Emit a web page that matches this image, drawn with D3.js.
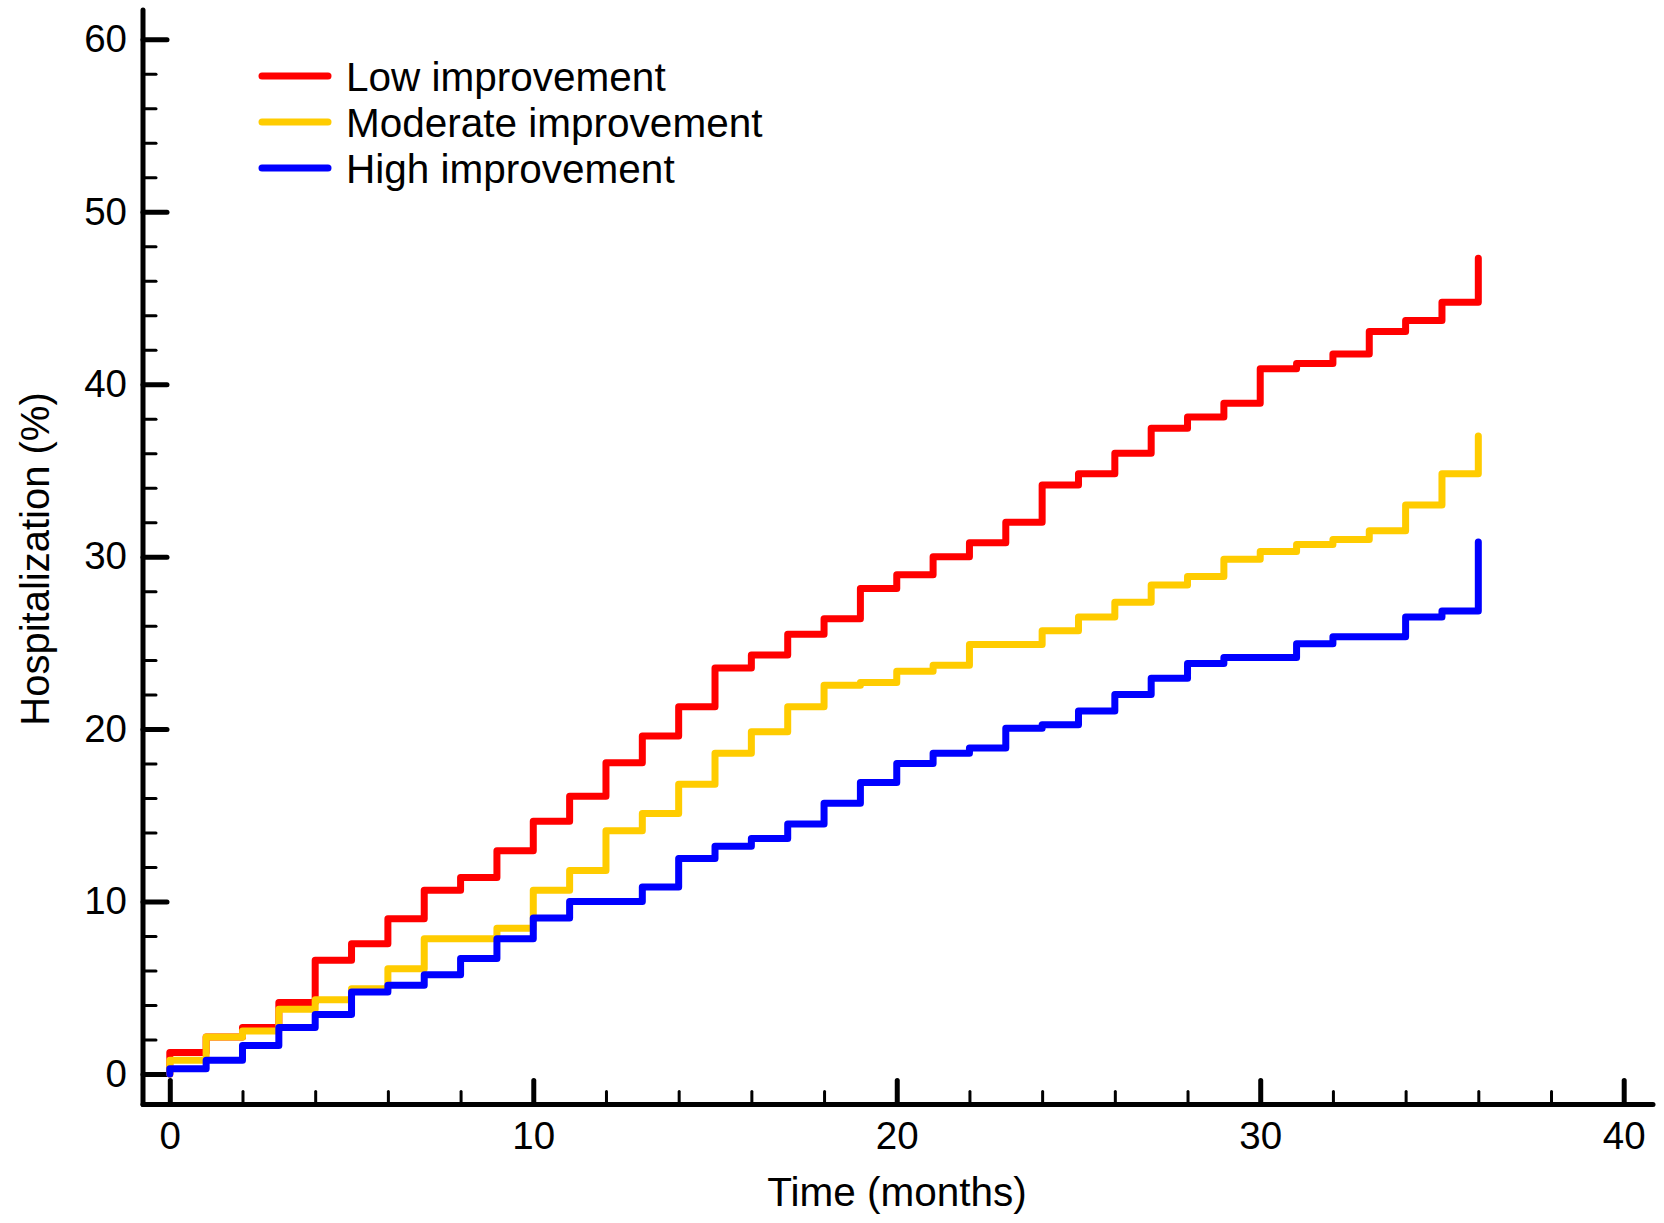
<!DOCTYPE html>
<html>
<head>
<meta charset="utf-8">
<script src="https://cdn.jsdelivr.net/npm/d3@7"></script>
<style>
  body { margin: 0; background: #fff; }
  svg { display: block; font-family: "Liberation Sans", Arial, sans-serif; }
</style>
</head>
<body>
<svg id="chart" width="1664" height="1223"></svg>
<script>
// step times (months)
const months = [0, 1, 2, 3, 4, 5, 6, 7, 8, 9, 10, 11, 12, 13, 14, 15, 16, 17, 18,
    19, 20, 21, 22, 23, 24, 25, 26, 27, 28, 29, 30, 31, 32, 33, 34, 35, 36];

// cumulative hospitalization (%) from each month on; last value is the jump at 36
const lowImprovement = [1.25, 2.15, 2.7, 4.15, 6.6, 7.55, 9.0, 10.65, 11.4, 12.95,
    14.65, 16.1, 18.05, 19.6, 21.3, 23.55, 24.3, 25.5, 26.4, 28.15, 28.95, 30.0,
    30.8, 32.0, 34.15, 34.8, 36.0, 37.45, 38.1, 38.9, 40.9, 41.2, 41.75, 43.05,
    43.7, 44.75, 47.3];
const moderateImprovement = [0.8, 2.15, 2.5, 3.75, 4.3, 4.95, 6.1, 7.85, 7.85, 8.45,
    10.65, 11.8, 14.1, 15.1, 16.8, 18.6, 19.85, 21.3, 22.55, 22.7, 23.35, 23.7,
    24.9, 24.9, 25.7, 26.5, 27.35, 28.35, 28.85, 29.85, 30.3, 30.7, 31.0, 31.5,
    33.0, 34.8, 37.0];
const highImprovement = [0.3, 0.8, 1.65, 2.7, 3.45, 4.75, 5.15, 5.75, 6.7, 7.85,
    9.05, 10.0, 10.0, 10.85, 12.5, 13.2, 13.65, 14.5, 15.7, 16.9, 18.0, 18.6,
    18.9, 20.05, 20.25, 21.05, 22.0, 22.95, 23.8, 24.15, 24.15, 24.95, 25.35,
    25.35, 26.5, 26.85, 30.85];

const seriesNames = ["Low improvement", "Moderate improvement", "High improvement"];
const seriesColors = ["#ff0000", "#ffcc00", "#0000ff"];

const xMajor = [0, 10, 20, 30, 40];
const xMinor = [2, 4, 6, 8, 12, 14, 16, 18, 22, 24, 26, 28, 32, 34, 36, 38];
const yMajor = [0, 10, 20, 30, 40, 50, 60];
const yMinor = [2, 4, 6, 8, 12, 14, 16, 18, 22, 24, 26, 28, 32, 34, 36, 38,
    42, 44, 46, 48, 52, 54, 56, 58];

const svg = d3.select("#chart");

const axisX = 143, axisY = 1104.5;

const x = d3.scaleLinear().domain([0, 40]).range([169.8, 1623.7]);
const y = d3.scaleLinear().domain([0, 60]).range([1074, 39.3]);

// axis lines (drawn past the data range, like the original)
svg.append("line")
    .attr("x1", axisX).attr("x2", axisX)
    .attr("y1", 10).attr("y2", axisY)
    .attr("stroke", "#000").attr("stroke-width", 5).attr("stroke-linecap", "round");
svg.append("line")
    .attr("x1", axisX).attr("x2", 1653)
    .attr("y1", axisY).attr("y2", axisY)
    .attr("stroke", "#000").attr("stroke-width", 5).attr("stroke-linecap", "round");

// y axis: ticks point inward
const yAxisG = svg.append("g")
    .attr("transform", `translate(${axisX},0)`)
    .call(d3.axisLeft(y).tickValues(yMajor).tickSize(-24).tickPadding(16));
svg.append("g")
    .attr("transform", `translate(${axisX},0)`)
    .call(d3.axisLeft(y).tickValues(yMinor).tickSize(-13).tickFormat(""));

// x axis
const xAxisG = svg.append("g")
    .attr("transform", `translate(0,${axisY})`)
    .call(d3.axisBottom(x).tickValues(xMajor).tickSize(-24).tickPadding(17));
svg.append("g")
    .attr("transform", `translate(0,${axisY})`)
    .call(d3.axisBottom(x).tickValues(xMinor).tickSize(-13).tickFormat(""));

svg.selectAll(".domain").remove();
svg.selectAll(".tick line")
    .attr("stroke", "#000")
    .attr("stroke-width", 3)
    .attr("stroke-linecap", "round");
yAxisG.selectAll(".tick line").attr("stroke-width", 5);
xAxisG.selectAll(".tick line").attr("stroke-width", 5);
svg.selectAll(".tick text")
    .attr("font-size", 38.5)
    .attr("font-family", "Liberation Sans, Arial, sans-serif")
    .attr("fill", "#000");

// step curves
const line = d3.line()
    .x(d => x(d[0]))
    .y(d => y(d[1]))
    .curve(d3.curveStepAfter);

const allSeries = [lowImprovement, moderateImprovement, highImprovement];
allSeries.forEach((vals, i) => {
    const pts = [[months[0], 0]].concat(months.map((m, j) => [m, vals[j]]));
    svg.append("path")
        .datum(pts)
        .attr("d", line)
        .attr("fill", "none")
        .attr("stroke", seriesColors[i])
        .attr("stroke-width", 7)
        .attr("stroke-linejoin", "round")
        .attr("stroke-linecap", "round");
});

// legend
const legend = svg.append("g").attr("transform", "translate(262,76)");
seriesNames.forEach((name, i) => {
    const g = legend.append("g").attr("transform", `translate(0,${i * 46})`);
    g.append("line")
        .attr("x1", 0).attr("x2", 66)
        .attr("stroke", seriesColors[i])
        .attr("stroke-width", 7)
        .attr("stroke-linecap", "round");
    g.append("text")
        .attr("x", 84)
        .attr("dy", "0.36em")
        .attr("font-size", 40.5)
        .text(name);
});

// axis titles
svg.append("text")
    .attr("x", 897).attr("y", 1191)
    .attr("dy", "0.36em")
    .attr("text-anchor", "middle")
    .attr("font-size", 40.5)
    .text("Time (months)");

svg.append("text")
    .attr("transform", "translate(35,559) rotate(-90)")
    .attr("dy", "0.36em")
    .attr("text-anchor", "middle")
    .attr("font-size", 40)
    .text("Hospitalization (%)");
</script>
</body>
</html>
